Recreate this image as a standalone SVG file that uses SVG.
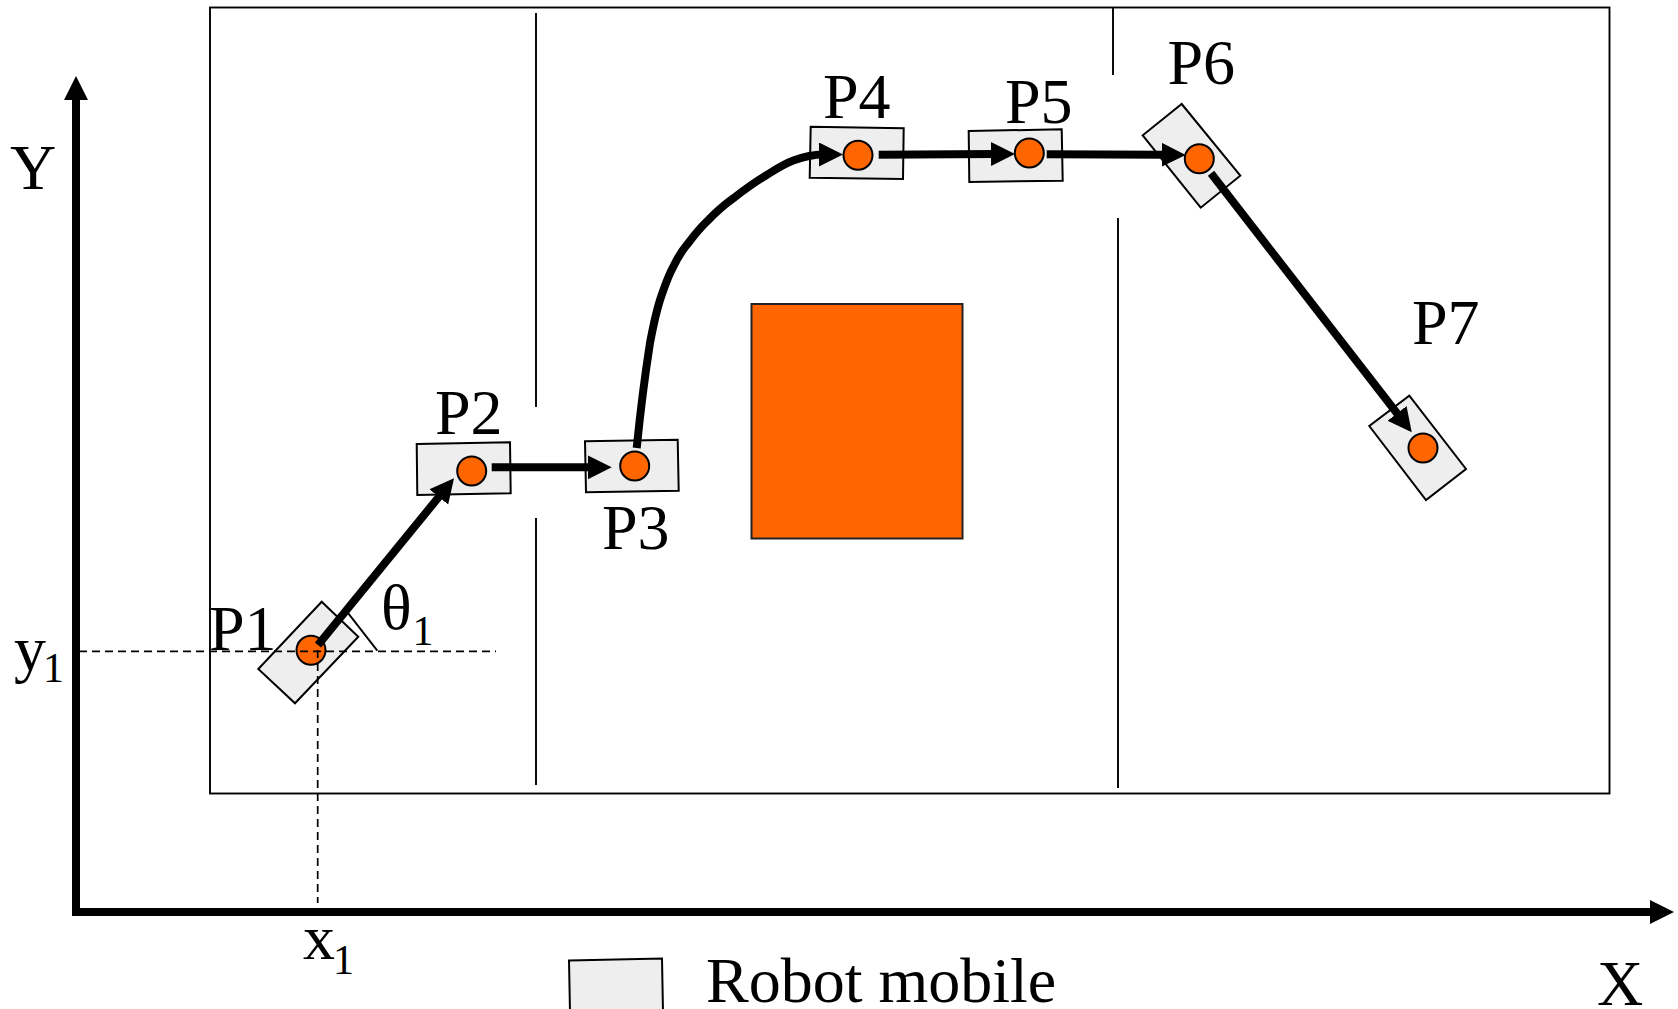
<svg xmlns="http://www.w3.org/2000/svg" width="1678" height="1009" viewBox="0 0 1678 1009">
<style>
text{font-family:"Liberation Serif","Times New Roman",serif;fill:#000}
.l{font-size:64px}
.s{font-size:42px}
.body{fill:#eeeeee;stroke:#000;stroke-width:2}
.dot{fill:#ff6600;stroke:#000;stroke-width:2}
.wall{fill:none;stroke:#000;stroke-width:1.900}
.dash{fill:none;stroke:#000;stroke-width:1.700;stroke-dasharray:8 5}
.arrow{fill:none;stroke:#000;stroke-width:8;marker-end:url(#head)}
</style>
<defs>
<marker id="head" markerUnits="userSpaceOnUse" markerWidth="26" markerHeight="26" refX="4" refY="12" orient="auto"><path d="M0,0 L24,12 L0,24 Z" fill="#000"/></marker>
</defs>
<rect width="1678" height="1009" fill="#fff"/>
<g id="room">
<rect class="wall" x="210" y="7.500" width="1399.500" height="786"/>
<path class="wall" d="M536,13V407M536,518V785M1113,7.500V75M1118,218V788"/>
</g>
<g id="obstacle"><rect x="751.500" y="304" width="211" height="234.500" fill="#ff6600" stroke="#222" stroke-width="2"/></g>
<g id="P1"><polygon class="body" points="321.700,601.700 358.300,636.700 295,703.300 258.300,669"/><circle class="dot" cx="311" cy="650.300" r="14.500"/><text class="l" x="209" y="650">P1</text></g>
<g id="P2"><polygon class="body" points="416.700,444 510,442.300 510.700,493.300 417.300,495"/><circle class="dot" cx="471.700" cy="471" r="14.500"/><text class="l" x="435" y="434">P2</text></g>
<g id="P3"><polygon class="body" points="585,441.300 677.700,439.700 678.700,490.700 586,492.300"/><circle class="dot" cx="634.700" cy="466" r="14.500"/><text class="l" x="602" y="549">P3</text></g>
<g id="P4"><polygon class="body" points="810.700,126.700 903.700,128.300 903,179 809.700,177.700"/><circle class="dot" cx="858" cy="155.300" r="14.500"/><text class="l" x="823" y="118">P4</text></g>
<g id="P5"><polygon class="body" points="968.700,131 1061.700,129.300 1062.700,180.700 969.300,182"/><circle class="dot" cx="1029.300" cy="153" r="14.500"/><text class="l" x="1005" y="123">P5</text></g>
<g id="P6"><polygon class="body" points="1181.700,104 1240.300,175.700 1200.700,207.700 1142.700,135.300"/><circle class="dot" cx="1199.300" cy="158.800" r="14.500"/><text class="l" x="1167.500" y="84">P6</text></g>
<g id="P7"><polygon class="body" points="1409.300,395.700 1466,469 1426,500 1369.300,426"/><circle class="dot" cx="1423" cy="448" r="14.500"/><text class="l" x="1412" y="344">P7</text></g>
<g id="connectors">
<path class="dash" d="M79,651.300H496M317.700,650V903"/>
<path class="wall" d="M348.300,613.300L377.300,650.700"/>
<path class="arrow" d="M318,645L441.400,493.800"/>
<path class="arrow" d="M491.700,467.300H591.700"/>
<path class="arrow" d="M636.700,448C640,415 645,375 650,343C653,327 655,316 660,300C664,288 668,276 673.300,266.700C677,259 681,252 686.700,245C693,237 699,229 706.700,221.700C715,213 724,205 733.300,198.300C744,190 755,182 766.700,175C776,169 785,163.500 793.300,160.500C803,157 813,154.500 823,154.500"/>
<path class="arrow" d="M878.700,154.700L995,154"/>
<path class="arrow" d="M1046.700,154.300L1165.700,154.800"/>
<path class="arrow" d="M1211,173.300L1399.500,416.500"/>
<path class="arrow" d="M76,908V96"/>
<path class="arrow" d="M72,912H1654"/>
</g>
<g id="labels">
<text class="l" x="10" y="189">Y</text>
<text class="l" x="14" y="670">y</text><text class="s" x="43" y="682">1</text>
<text class="l" x="381" y="629">θ</text><text class="s" x="412.500" y="645">1</text>
<text class="l" x="303" y="959">x</text><text class="s" x="333" y="974">1</text>
<text class="l" x="1597" y="1005">X</text>
</g>
<g id="legend">
<polygon class="body" points="569,960.500 662,958.500 663,1012 570,1012"/>
<text class="l" x="706" y="1001.500">Robot mobile</text>
</g>
</svg>
